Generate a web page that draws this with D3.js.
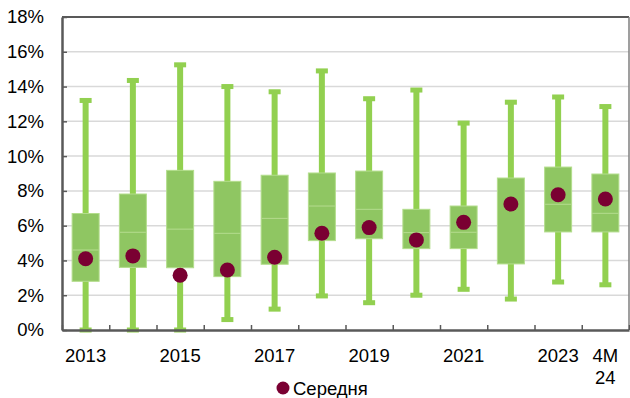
<!DOCTYPE html>
<html><head><meta charset="utf-8">
<script src="https://cdn.jsdelivr.net/npm/d3@7"></script>
<style>body{margin:0;background:#fff}svg{display:block;font-family:"Liberation Sans",Arial,sans-serif}</style>
</head><body><svg id="c" width="630" height="398"></svg>
<script>
const categories = ["2013","2014","2015","2016","2017","2018","2019","2020","2021","2022","2023","4M 24"];
const tickLabels = ["2013","","2015","","2017","","2019","","2021","","2023","4M 24"];
const maxVals    = [13.2,14.35,15.25,14.0,13.7,14.9,13.3,13.8,11.9,13.1,13.4,12.85];
const q3Vals     = [6.7,7.82,9.18,8.55,8.9,9.03,9.14,6.94,7.13,8.74,9.37,8.97];
const medianVals = [4.6,5.62,5.8,5.56,6.42,7.13,6.94,5.6,5.62,null,7.23,6.71];
const q1Vals     = [2.8,3.6,3.58,3.07,3.78,5.14,5.25,4.68,4.68,3.8,5.64,5.64];
const minVals    = [0,0,0,0.6,1.2,1.96,1.57,2.0,2.34,1.78,2.76,2.6];
const meanVals   = [4.1,4.26,3.15,3.45,4.18,5.56,5.89,5.18,6.19,7.25,7.78,7.53];
const yTicks = [0,2,4,6,8,10,12,14,16,18];
const legendLabel = "Середня";

const svg = d3.select("#c");
const L=62, R=629, T=17, B=330;
const FS = 18.5;
const x = d3.scaleBand().domain(categories).range([L,R]);
const y = d3.scaleLinear().domain([0,18]).range([B,T]);
const cx = c => x(c)+x.bandwidth()/2;

// grid
svg.append("g").selectAll("line").data(yTicks.filter(v=>v>0&&v<18)).join("line")
  .attr("x1",L).attr("x2",R).attr("y1",d=>y(d)).attr("y2",d=>y(d))
  .attr("stroke","#d9d9d9").attr("stroke-width",1.5);

// frame top/right
svg.append("line").attr("x1",L).attr("x2",R).attr("y1",T).attr("y2",T).attr("stroke","#595959").attr("stroke-width",2);
svg.append("line").attr("x1",R).attr("x2",R).attr("y1",T).attr("y2",B).attr("stroke","#7f7f7f").attr("stroke-width",1.5);

const data = categories.map((c,i)=>({c,max:maxVals[i],q3:q3Vals[i],med:medianVals[i],q1:q1Vals[i],min:minVals[i],mean:meanVals[i]}));
const g = svg.append("g");
const wcol="#92d050";
g.selectAll(".w").data(data).join("line")
  .attr("x1",d=>cx(d.c)).attr("x2",d=>cx(d.c)).attr("y1",d=>y(d.max)).attr("y2",d=>y(d.min))
  .attr("stroke",wcol).attr("stroke-width",6);
["max","min"].forEach(k=>{
  g.selectAll(".cap"+k).data(data).join("rect")
    .attr("x",d=>cx(d.c)-6).attr("width",12)
    .attr("y",d=>y(d[k])-2.5).attr("height",5)
    .attr("fill",wcol);
});
g.selectAll(".b").data(data).join("rect")
  .attr("x",d=>cx(d.c)-13.5).attr("width",27)
  .attr("y",d=>y(d.q3)).attr("height",d=>y(d.q1)-y(d.q3))
  .attr("fill","#8fc662").attr("stroke","#b3dd8c").attr("stroke-width",1);
g.selectAll(".m").data(data.filter(d=>d.med!=null)).join("line")
  .attr("x1",d=>cx(d.c)-13).attr("x2",d=>cx(d.c)+13)
  .attr("y1",d=>y(d.med)).attr("y2",d=>y(d.med))
  .attr("stroke","#b5dc8f").attr("stroke-width",1);
g.selectAll(".d").data(data).join("circle")
  .attr("cx",d=>cx(d.c)).attr("cy",d=>y(d.mean)).attr("r",7.5)
  .attr("fill","#7a0032");

const ya = svg.append("g").attr("transform",`translate(${L},0)`)
  .call(d3.axisLeft(y).tickValues(yTicks).tickFormat(d=>d+"%").tickSizeInner(-5).tickSizeOuter(0).tickPadding(18));
ya.select(".domain").attr("stroke","#595959").attr("stroke-width",2.5);
ya.selectAll(".tick line").attr("stroke","#595959").attr("stroke-width",1.5);
ya.selectAll("text").attr("font-size",FS).attr("fill","#000").attr("font-family","Liberation Sans, Arial, sans-serif");

const xb = d3.scaleLinear().domain([0,categories.length]).range([L,R]);
const xa = svg.append("g").attr("transform",`translate(0,${B})`)
  .call(d3.axisBottom(xb).tickValues(d3.range(categories.length+1)).tickFormat("").tickSizeInner(-5).tickSizeOuter(0));
xa.select(".domain").attr("stroke","#595959").attr("stroke-width",2.5);
xa.selectAll(".tick line").attr("stroke","#595959").attr("stroke-width",1.5);

const lab = svg.append("g").selectAll("text").data(categories.map((c,i)=>({c,t:tickLabels[i]})).filter(d=>d.t)).join("text")
  .attr("x",d=>cx(d.c)).attr("y",362).attr("text-anchor","middle").attr("font-size",FS).attr("fill","#000");
lab.each(function(d){
  const parts = d.t.startsWith("4M") ? ["4M","24"] : [d.t];
  d3.select(this).selectAll("tspan").data(parts).join("tspan").attr("x",cx(d.c)).attr("dy",(p,i)=>i?22:0).text(p=>p);
});

svg.append("circle").attr("cx",283).attr("cy",388).attr("r",6.5).attr("fill","#7a0032");
svg.append("text").attr("x",293).attr("y",395).attr("font-size",FS).attr("fill","#000").text(legendLabel);
</script></body></html>
